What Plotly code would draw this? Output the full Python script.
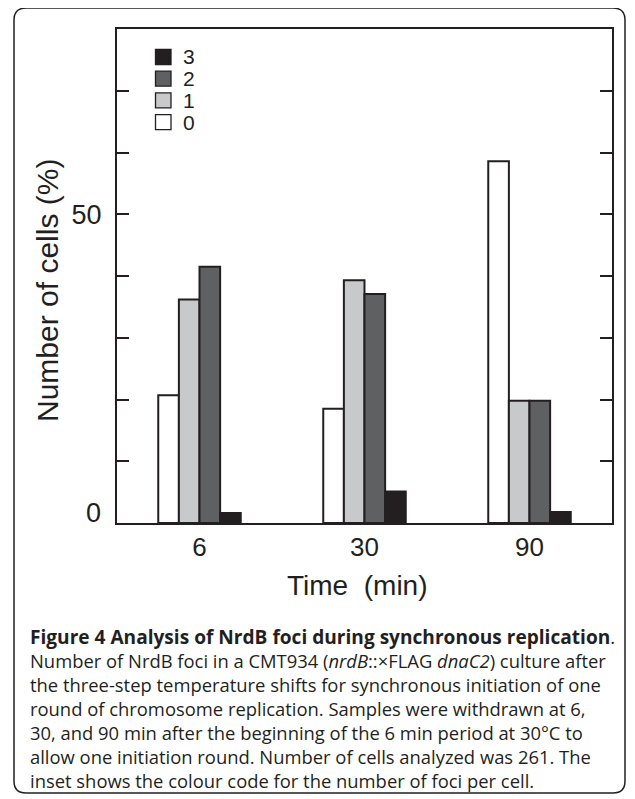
import plotly.graph_objects as go

# ---- data ----
time_labels = ["6", "30", "90"]
foci_classes = ["0", "1", "2", "3"]
pct_0 = [20.7, 18.5, 58.6]
pct_1 = [36.2, 39.3, 19.8]
pct_2 = [41.5, 37.1, 19.8]
pct_3 = [1.6, 5.1, 1.8]
series_values = [pct_0, pct_1, pct_2, pct_3]
bar_colors = ["#ffffff", "#c8c9cb", "#5f6062", "#231f20"]
legend_order = ["3", "2", "1", "0"]

y_tick_vals = [0, 10, 20, 30, 40, 50, 60, 70, 80]
y_tick_text = ["", "", "", "", "", "50", "", "", ""]
zero_label = "0"

y_title = "Number of cells (%)"
x_title = "Time\u00a0\u00a0(min)"

caption_lines = [
    "<span style=\"font-size:19.1px\"><b>Figure 4 Analysis of NrdB foci during synchronous replication</b></span>.",
    "Number of NrdB foci in a CMT934 (<i>nrdB</i>::×FLAG <i>dnaC2</i>) culture after",
    "the three-step temperature shifts for synchronous initiation of one",
    "round of chromosome replication. Samples were withdrawn at 6,",
    "30, and 90 min after the beginning of the 6 min period at 30°C to",
    "allow one initiation round. Number of cells analyzed was 261. The",
    "inset shows the colour code for the number of foci per cell.",
]

# ---- layout geometry (screen pixels; page has an 8px body margin) ----
OFF = 8
SW, SH = 635, 799
W, H = SW - OFF, SH - OFF
L, R, T, B = 117, 612, 29, 523
def px(x):
    return (x - L) / (R - L)
def py(y):
    return (B - y) / (B - T)

INK = "#231f20"
CHART_FONT = "Liberation Sans, Arial, sans-serif"
CAP_FONT = "Open Sans, sans-serif"

fig = go.Figure()
for name, vals, col in zip(foci_classes, series_values, bar_colors):
    fig.add_trace(go.Bar(
        x=time_labels, y=vals, name=name, showlegend=False,
        marker=dict(color=col, line=dict(color=INK, width=2)),
    ))

fig.update_layout(
    width=W, height=H,
    margin=dict(l=L - OFF, r=SW - R, t=T - OFF, b=SH - B, pad=0),
    paper_bgcolor="white", plot_bgcolor="white",
    barmode="group", bargap=0.5, bargroupgap=0,
    font=dict(family=CHART_FONT, color=INK),
    showlegend=False,
)
fig.update_xaxes(
    type="category", range=[-0.5, 2.5],
    showline=True, linecolor=INK, linewidth=2, mirror=True,
    ticks="", showgrid=False, zeroline=False,
    tickfont=dict(size=26, family=CHART_FONT, color=INK),
    ticklabelstandoff=0,
)
fig.update_yaxes(
    range=[0, 80], tickvals=y_tick_vals, ticktext=y_tick_text,
    showline=True, linecolor=INK, linewidth=2, mirror="ticks",
    ticks="inside", ticklen=12, tickwidth=1.5, tickcolor=INK,
    showgrid=False, zeroline=False,
    tickfont=dict(size=27, family=CHART_FONT, color=INK),
    ticklabelstandoff=8,
)

ann = []
shapes = []
ann.append(dict(text=zero_label, xref="paper", yref="y", x=px(103), y=0, yshift=10,
                xanchor="right", yanchor="middle", showarrow=False,
                font=dict(size=27, family=CHART_FONT, color=INK)))
ann.append(dict(text=y_title, xref="paper", yref="paper", x=px(47), y=py(291),
                textangle=-90, xanchor="center", yanchor="middle", showarrow=False,
                font=dict(size=30, family=CHART_FONT, color=INK)))
ann.append(dict(text=x_title, xref="paper", yref="paper", x=px(357), y=py(585),
                xanchor="center", yanchor="middle", showarrow=False,
                font=dict(size=28, family=CHART_FONT, color=INK)))

# inset colour key (3,2,1,0 from top)
colour_of = dict(zip(foci_classes, bar_colors))
for i, name in enumerate(legend_order):
    cy = 57 + i * 21.7
    shapes.append(dict(type="rect", xref="paper", yref="paper",
                       x0=px(155.5), x1=px(171), y0=py(cy - 7.5), y1=py(cy + 7.5),
                       fillcolor=colour_of[name], line=dict(color=INK, width=1.3)))
    ann.append(dict(text=name, xref="paper", yref="paper", x=px(181), y=py(cy),
                    xanchor="left", yanchor="middle", showarrow=False,
                    font=dict(size=21, family=CHART_FONT, color=INK)))

# caption as one left-aligned text block
ann.append(dict(text="<br>".join(caption_lines), xref="paper", yref="paper",
                x=px(28), y=py(708), xanchor="left", yanchor="middle", align="left",
                showarrow=False, font=dict(size=18.4, family=CAP_FONT, color=INK)))

# rounded frame around figure and caption
x0, x1, y0, y1, r = 14, 625, 8, 793, 12
rx, ry = r / (R - L), r / (B - T)
X0, X1, Y0, Y1 = px(x0), px(x1), py(y0), py(y1)
path = (f"M {X0+rx},{Y0} L {X1-rx},{Y0} Q {X1},{Y0} {X1},{Y0-ry} "
        f"L {X1},{Y1+ry} Q {X1},{Y1} {X1-rx},{Y1} "
        f"L {X0+rx},{Y1} Q {X0},{Y1} {X0},{Y1+ry} "
        f"L {X0},{Y0-ry} Q {X0},{Y0} {X0+rx},{Y0} Z")
shapes.append(dict(type="path", path=path, xref="paper", yref="paper",
                   line=dict(color=INK, width=1.5), layer="below"))

fig.update_layout(annotations=ann, shapes=shapes)
fig.write_html("out.html")
